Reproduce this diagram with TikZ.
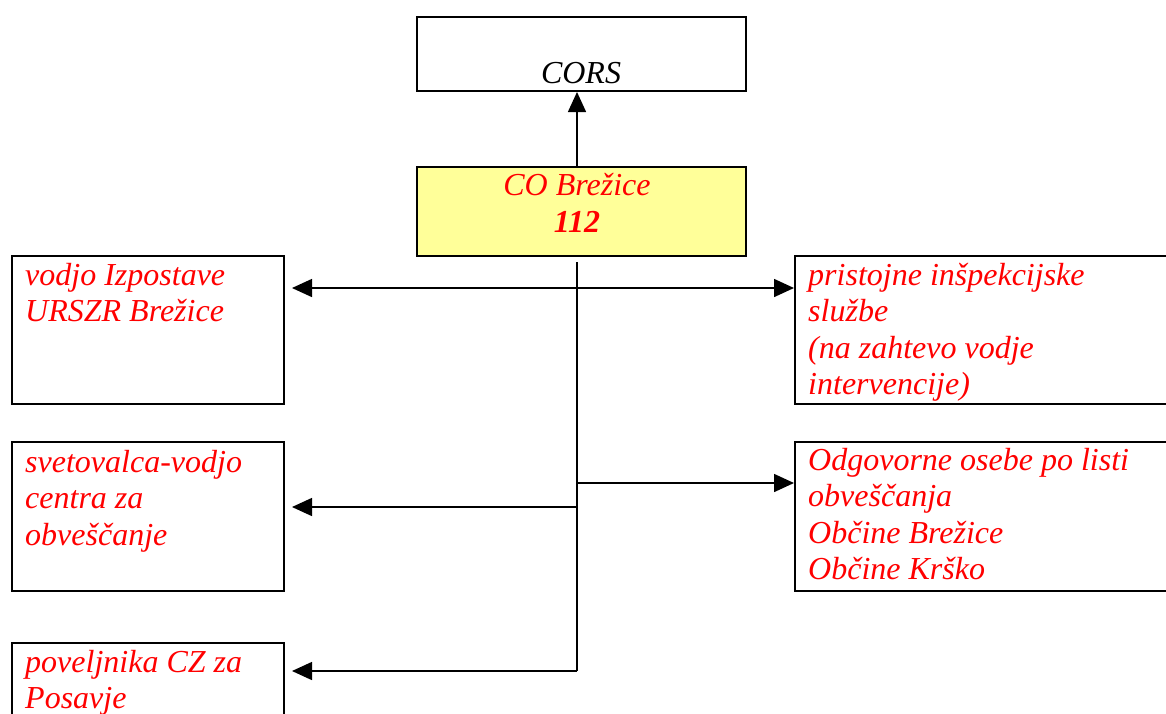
\documentclass[tikz,border=0pt]{standalone}
\usepackage{fontspec}
\setmainfont{Liberation Serif}
\usetikzlibrary{arrows.meta}
\definecolor{boxyellow}{HTML}{FFFF99}
\begin{document}
\begin{tikzpicture}[x=1pt,y=-1pt,
  box/.style={draw=black,line width=2pt,inner sep=0pt,anchor=north west},
  txt/.style={inner sep=0pt,anchor=base west,text=red,font=\fontsize{32}{36.5}\selectfont\itshape},
  conn/.style={draw=black,line width=1.5pt},
  arr/.style={conn,-{Triangle[length=20pt,width=18pt]}}]
\useasboundingbox (0,0) rectangle (1166,713);
% boxes
\node[box,minimum width=329pt,minimum height=74pt] (CORS) at (416,16) {};
\node[box,fill=boxyellow,minimum width=329pt,minimum height=89pt] (CO) at (416,166) {};
\node[box,minimum width=272pt,minimum height=148pt] (L1) at (11,255) {};
\node[box,minimum width=272pt,minimum height=149pt] (L2) at (11,441) {};
\node[box,minimum width=272pt,minimum height=130pt] (L3) at (11,642) {};
\node[box,minimum width=400pt,minimum height=148pt] (R1) at (794,255) {};
\node[box,minimum width=400pt,minimum height=149pt] (R2) at (794,441) {};
% texts
\node[txt,text=black,anchor=base] (tCORS) at (581,83) {CORS};
\node[txt,anchor=base] (tCO) at (577,195) {\begin{tabular}[t]{@{}c@{}}CO Brežice\\[0.5pt]\textbf{112}\end{tabular}};
\node[txt] (tL1) at (25,285) {\begin{tabular}[t]{@{}l@{}}vodjo Izpostave\\URSZR Brežice\end{tabular}};
\node[txt] (tL2) at (25,472) {\begin{tabular}[t]{@{}l@{}}svetovalca-vodjo\\centra za\\obveščanje\end{tabular}};
\node[txt] (tL3) at (25,672) {\begin{tabular}[t]{@{}l@{}}poveljnika CZ za\\Posavje\end{tabular}};
\node[txt] (tR1) at (808,285) {\begin{tabular}[t]{@{}l@{}}pristojne inšpekcijske\\službe\\(na zahtevo vodje\\intervencije)\end{tabular}};
\node[txt] (tR2) at (808,470) {\begin{tabular}[t]{@{}l@{}}Odgovorne osebe po listi\\obveščanja\\Občine Brežice\\Občine Krško\end{tabular}};
% connectors
\coordinate (top) at (577,262);
\coordinate (j1) at (577,288);
\coordinate (j2) at (577,483);
\coordinate (j3) at (577,507);
\coordinate (bot) at (577,671);
\draw[arr] (CO.north -| top) -- (CORS.south -| top);
\draw[conn] (top) -- (bot);
\draw[arr] (j1) -- ([xshift=7pt]L1.east |- j1);
\draw[arr] (j1) -- (R1.west |- j1);
\draw[conn,line width=2.5pt] ([xshift=-24pt]j1) -- ([xshift=25pt]j1);
\draw[arr] (j2) -- (R2.west |- j2);
\draw[arr] (j3) -- ([xshift=7pt]L2.east |- j3);
\draw[arr] (bot) -- ([xshift=7pt]L3.east |- bot);
\end{tikzpicture}
\end{document}
